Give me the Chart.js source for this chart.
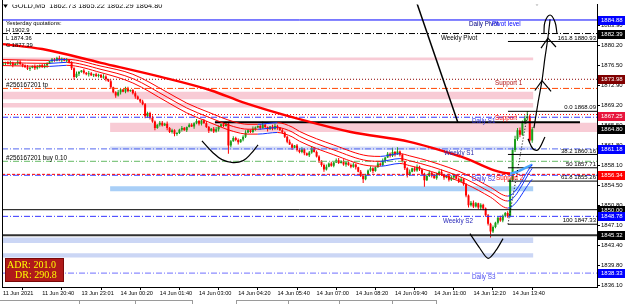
<!DOCTYPE html>
<html>
<head>
<meta charset="utf-8">
<title>GOLD,M5</title>
<script src="https://cdn.jsdelivr.net/npm/chart.js@4.4.1/dist/chart.umd.min.js"></script>
<style>
html,body{margin:0;padding:0;background:#fff;overflow:hidden;}
#wrap{position:relative;width:625px;height:304px;}
canvas{display:block;}
</style>
</head>
<body>
<div id="wrap"><canvas id="chart" width="625" height="304"></canvas></div>
<script>
// ---------------- DATA ----------------
const opens = [
1876.7,1876.9,1877.1,1876.8,1877.0,1876.6,1876.9,1877.2,1876.8,1876.5,
1876.2,1875.9,1876.1,1876.4,1876.0,1876.3,1876.6,1876.2,1876.5,1876.9,
1877.3,1877.6,1877.4,1877.9,1877.5,1877.8,1877.4,1877.6,1877.1,1876.0,
1874.4,1875.0,1875.3,1875.6,1875.2,1874.9,1875.1,1874.7,1874.9,1874.6,
1874.8,1874.3,1874.5,1874.0,1873.6,1872.5,1871.6,1871.0,1871.6,1872.1,
1871.7,1872.3,1871.8,1872.0,1871.4,1870.8,1870.3,1869.9,1869.4,1867.2,
1867.8,1866.9,1866.2,1865.0,1865.6,1866.0,1865.5,1865.8,1865.0,1864.3,
1864.6,1863.9,1864.1,1864.7,1865.0,1864.6,1865.2,1865.6,1865.3,1865.9,
1866.3,1865.8,1866.4,1865.9,1865.2,1864.5,1864.9,1864.4,1864.8,1865.3,
1865.7,1865.4,1865.8,1861.8,1862.6,1863.2,1862.8,1862.4,1862.9,1863.4,
1864.2,1864.6,1864.3,1864.9,1865.1,1865.4,1865.0,1865.6,1865.2,1864.8,
1865.3,1864.9,1865.4,1865.1,1864.6,1864.2,1863.4,1862.5,1862.0,1861.4,
1861.8,1861.0,1860.6,1861.1,1860.4,1860.0,1860.5,1861.3,1860.6,1859.8,
1859.0,1858.2,1857.4,1857.9,1858.5,1858.1,1858.7,1859.1,1858.6,1858.9,
1858.3,1858.7,1858.2,1857.9,1858.3,1857.8,1857.0,1856.2,1855.6,1856.4,
1857.2,1857.6,1857.1,1857.8,1858.5,1858.2,1859.0,1859.6,1860.3,1859.9,
1860.6,1860.2,1860.7,1860.1,1858.9,1857.6,1856.4,1857.0,1857.6,1857.2,
1857.9,1857.4,1856.6,1855.4,1856.2,1856.8,1856.3,1855.8,1856.5,1857.0,
1856.4,1855.9,1856.3,1855.5,1855.9,1856.4,1855.7,1855.2,1855.6,1854.7,
1852.6,1850.8,1851.3,1850.6,1851.2,1850.4,1850.9,1850.2,1849.0,1847.4,
1846.0,1846.8,1847.6,1848.5,1848.0,1848.9,1849.4,1848.8,1855.5,1861.0,
1863.0,1864.6,1863.8,1866.0,1866.8,1867.2,1862.73];
const highs = [
1877.2,1877.2,1877.3,1877.4,1877.2,1877.0,1877.5,1877.5,1876.9,1876.7,
1876.6,1876.3,1876.5,1876.7,1876.6,1876.7,1876.8,1876.9,1877.1,1877.4,
1877.9,1877.9,1878.1,1878.3,1878.0,1877.9,1877.9,1877.7,1877.3,1876.2,
1875.4,1875.5,1875.7,1875.9,1875.3,1875.5,1875.3,1875.0,1875.2,1875.0,
1874.9,1874.9,1874.7,1874.1,1873.9,1872.6,1871.8,1872.0,1872.3,1872.2,
1872.6,1872.6,1872.1,1872.2,1871.8,1871.0,1870.4,1870.2,1869.6,1868.0,
1868.0,1867.3,1866.4,1865.7,1866.3,1866.3,1866.0,1866.2,1865.2,1864.9,
1864.8,1864.3,1864.9,1865.4,1865.2,1865.3,1865.9,1865.9,1866.1,1866.7,
1866.5,1866.5,1866.7,1866.3,1865.4,1865.0,1865.2,1865.2,1865.5,1865.8,
1866.0,1866.2,1866.0,1862.8,1863.5,1863.4,1863.1,1863.0,1863.7,1864.6,
1864.8,1864.7,1865.3,1865.3,1865.5,1865.7,1866.2,1865.8,1865.3,1865.4,
1865.6,1865.8,1865.6,1865.2,1864.9,1864.4,1863.6,1862.9,1862.2,1861.9,
1862.1,1861.3,1861.5,1861.3,1860.5,1860.8,1861.7,1861.5,1860.9,1860.0,
1859.1,1858.5,1858.3,1858.7,1858.8,1858.8,1859.4,1859.5,1859.1,1859.3,
1858.9,1858.8,1858.5,1858.7,1858.5,1857.9,1857.3,1856.5,1856.6,1857.4,
1858.0,1857.8,1857.9,1858.8,1858.7,1859.4,1859.7,1860.6,1860.5,1861.4,
1860.8,1861.5,1860.9,1860.3,1859.0,1857.8,1857.4,1857.7,1857.9,1858.3,
1858.1,1857.5,1856.8,1856.5,1857.2,1857.0,1856.4,1856.8,1857.2,1857.4,
1856.5,1856.4,1856.6,1856.3,1856.6,1856.5,1855.9,1856.0,1855.8,1854.9,
1852.8,1851.6,1851.7,1851.4,1851.3,1851.2,1851.1,1850.4,1849.2,1847.6,
1847.1,1847.8,1848.7,1848.9,1849.1,1849.6,1849.7,1855.8,1861.4,1863.6,
1865.0,1865.1,1866.4,1867.3,1868.09,1867.5,1865.22];
const lows = [
1876.5,1876.6,1876.7,1876.6,1876.2,1876.5,1876.6,1876.6,1876.2,1876.1,
1875.7,1875.5,1876.0,1875.7,1875.8,1876.0,1876.1,1876.0,1876.1,1876.8,
1877.0,1877.2,1877.3,1877.3,1877.1,1877.3,1877.1,1876.9,1875.7,1873.9,
1874.2,1874.6,1875.2,1874.9,1874.7,1874.5,1874.6,1874.4,1874.4,1874.3,
1874.2,1874.1,1873.6,1873.5,1872.2,1871.4,1870.6,1870.8,1871.2,1871.6,
1871.4,1871.6,1871.7,1871.2,1870.4,1870.2,1869.6,1869.2,1866.8,1866.9,
1866.6,1866.0,1864.6,1864.9,1865.3,1865.3,1865.4,1864.6,1864.1,1864.0,
1863.5,1863.6,1863.9,1864.4,1864.5,1864.3,1865.1,1865.2,1864.9,1865.7,
1865.5,1865.5,1865.8,1865.0,1864.1,1864.4,1864.1,1864.2,1864.4,1865.2,
1865.2,1865.3,1860.3,1861.5,1862.5,1862.6,1862.0,1862.3,1862.6,1863.2,
1864.1,1864.1,1864.1,1864.5,1865.0,1864.7,1864.9,1865.0,1864.4,1864.7,
1864.6,1864.7,1864.7,1864.5,1863.9,1863.2,1862.2,1861.9,1861.0,1861.3,
1860.7,1860.4,1860.4,1860.0,1859.9,1859.7,1860.3,1860.5,1859.6,1858.6,
1857.9,1857.0,1857.2,1857.8,1857.9,1857.8,1858.6,1858.4,1858.5,1858.1,
1857.9,1858.1,1857.6,1857.7,1857.4,1856.9,1856.0,1854.9,1855.4,1856.3,
1857.0,1856.7,1857.0,1857.7,1858.0,1858.0,1858.6,1859.5,1859.6,1859.7,
1859.8,1860.1,1859.8,1858.7,1857.3,1855.9,1856.2,1856.9,1857.0,1857.0,
1857.1,1856.3,1854.2,1855.3,1856.0,1855.9,1855.7,1855.5,1856.3,1856.2,
1855.5,1855.8,1855.2,1855.3,1855.5,1855.6,1854.9,1855.0,1854.4,1852.3,
1850.4,1850.6,1850.3,1850.4,1850.1,1850.0,1849.9,1848.7,1847.1,1844.9,
1845.7,1846.6,1847.3,1847.8,1847.7,1848.6,1848.5,1848.6,1855.2,1860.6,
1862.7,1863.3,1863.6,1865.7,1866.4,1862.4,1862.29];
const closes = [
1876.9,1877.1,1876.8,1877.0,1876.6,1876.9,1877.2,1876.8,1876.5,1876.2,
1875.9,1876.1,1876.4,1876.0,1876.3,1876.6,1876.2,1876.5,1876.9,1877.3,
1877.6,1877.4,1877.9,1877.5,1877.8,1877.4,1877.6,1877.1,1876.0,1874.4,
1875.0,1875.3,1875.6,1875.2,1874.9,1875.1,1874.7,1874.9,1874.6,1874.8,
1874.3,1874.5,1874.0,1873.6,1872.5,1871.6,1871.0,1871.6,1872.1,1871.7,
1872.3,1871.8,1872.0,1871.4,1870.8,1870.3,1869.9,1869.4,1867.2,1867.8,
1866.9,1866.2,1865.0,1865.6,1866.0,1865.5,1865.8,1865.0,1864.3,1864.6,
1863.9,1864.1,1864.7,1865.0,1864.6,1865.2,1865.6,1865.3,1865.9,1866.3,
1865.8,1866.4,1865.9,1865.2,1864.5,1864.9,1864.4,1864.8,1865.3,1865.7,
1865.4,1865.8,1861.8,1862.6,1863.2,1862.8,1862.4,1862.9,1863.4,1864.2,
1864.6,1864.3,1864.9,1865.1,1865.4,1865.0,1865.6,1865.2,1864.8,1865.3,
1864.9,1865.4,1865.1,1864.6,1864.2,1863.4,1862.5,1862.0,1861.4,1861.8,
1861.0,1860.6,1861.1,1860.4,1860.0,1860.5,1861.3,1860.6,1859.8,1859.0,
1858.2,1857.4,1857.9,1858.5,1858.1,1858.7,1859.1,1858.6,1858.9,1858.3,
1858.7,1858.2,1857.9,1858.3,1857.8,1857.0,1856.2,1855.6,1856.4,1857.2,
1857.6,1857.1,1857.8,1858.5,1858.2,1859.0,1859.6,1860.3,1859.9,1860.6,
1860.2,1860.7,1860.1,1858.9,1857.6,1856.4,1857.0,1857.6,1857.2,1857.9,
1857.4,1856.6,1855.4,1856.2,1856.8,1856.3,1855.8,1856.5,1857.0,1856.4,
1855.9,1856.3,1855.5,1855.9,1856.4,1855.7,1855.2,1855.6,1854.7,1852.6,
1850.8,1851.3,1850.6,1851.2,1850.4,1850.9,1850.2,1849.0,1847.4,1846.0,
1846.8,1847.6,1848.5,1848.0,1848.9,1849.4,1848.8,1855.5,1861.0,1863.0,
1864.6,1863.8,1866.0,1866.8,1867.2,1862.73,1864.80];

// time axis (bar index of each labelled tick, 16 bars = 80 min apart)
const xTickBars = [0,16,32,48,64,80,96,112,128,144,160,176,192,208];
const xTickLabels = ['11 Jun 2021','11 Jun 20:40','13 Jun 23:01','14 Jun 00:20','14 Jun 01:40','14 Jun 03:00','14 Jun 04:20','14 Jun 05:40','14 Jun 07:00','14 Jun 08:20','14 Jun 09:40','14 Jun 11:00','14 Jun 12:20','14 Jun 13:40'];
// price axis ticks
const yTickValues = [1883.90,1880.20,1876.50,1872.90,1869.20,1865.50,1861.80,1858.10,1854.50,1850.80,1847.10,1843.40,1839.80,1836.10];

// slow moving average (thick)
const slowBars = [0,16,40,64,85,98,121,142,166,187,207,216];
const slowMA   = [1880.45,1879.54,1877.0,1874.46,1871.92,1869.74,1866.65,1864.29,1862.48,1859.75,1856.67,1858.3];
// three-line ribbon
const ribbonBars  = [0,19,26,40,53,67,75,84,94,100,104,112,118,121,135,149,154,162,166,175,189,199,206,216];
const ribbonUpper = [1877.6,1877.45,1877.65,1876.4,1874.9,1871.6,1869.6,1867.9,1866.2,1865.7,1865.7,1866.0,1865.2,1864.4,1861.9,1859.9,1859.8,1860.3,1859.9,1858.8,1856.5,1854.1,1852.5,1858.3];
const ribbonMid   = [1877.05,1876.9,1877.1,1875.8,1874.1,1870.7,1868.7,1867.0,1865.3,1864.8,1864.8,1865.1,1864.3,1863.5,1861.0,1859.0,1858.9,1859.4,1859.0,1857.9,1855.6,1853.2,1851.6,1857.6];
const ribbonLower = [1876.5,1876.35,1876.55,1875.2,1873.3,1869.8,1867.8,1866.1,1864.4,1863.9,1863.9,1864.2,1863.4,1862.6,1860.1,1858.1,1858.0,1858.5,1858.1,1857.0,1854.7,1852.3,1850.3,1855.6];

// horizontal levels (full width)
const levelPrices = [1884.88,1882.39,1873.98,1872.30,1867.50,1867.00,1861.18,1858.90,1856.50,1856.34,1850.00,1848.78,1845.32,1838.33];
// user horizontal segment
const userLinePrice = 1866.10, userLineBars = [86.5, 235.5];
// supply / demand zones
const zoneTop    = [1878.00,1871.70,1869.60,1866.00,1861.60,1854.30,1844.90,1842.00];
const zoneBottom = [1877.50,1870.30,1868.80,1864.30,1861.00,1853.40,1843.90,1841.20];
const zoneFrom   = [-0.41,-0.41,-0.41,43.7,43.7,43.7,-0.41,-0.41];
const zoneTo     = [216.5,216.5,216.5,242.45,216.5,216.5,216.5,216.5];
// fibonacci
const fibPrices = [1868.09,1860.16,1857.71,1855.26,1847.33,1880.93];
const fibLabels = ['0.0 1868.09','38.2 1860.16','50 1857.71','61.8 1855.26','100 1847.33','161.8 1880.93'];
const fibStartBar = 206.1;
// right-axis price markers
const markerPrices = [1884.88,1882.39,1873.98,1867.25,1864.80,1861.18,1856.34,1850.00,1848.78,1845.32,1838.33];
// hand-drawn objects (bar index, price)
const trendBars = [169.0,185.7],  trendPrices = [1887.89,1866.0];
const smileBars = [81.2,85.3,89.4,93.9,98.0,101.2,104.1], smilePrices = [1862.66,1860.66,1859.21,1858.66,1859.03,1860.30,1861.93];
const vBars = [190.6,194.7,198.0,201.2,204.1], vPrices = [1845.59,1842.87,1841.06,1842.51,1844.68];
const hookBars = [214.3,216.3,218.4,221.2], hookPrices = [1863.02,1861.21,1861.02,1863.38];
const shaftBars = [216.7,218.4,220.0,221.2,222.4,223.3], shaftPrices = [1865.0,1869.74,1873.73,1877.91,1881.54,1884.99];
const head1Bars = [217.1,220.0,223.7], head1Prices = [1871.92,1873.73,1871.74];
const head2Bars = [219.6,222.4,225.7], head2Prices = [1879.72,1881.54,1879.91];
const head3Bars = [220.8,221.2,223.3,225.3,226.1], head3Prices = [1882.45,1884.5,1885.8,1884.5,1882.45];
const fibTrendBars = [206.1,214.3], fibTrendPrices = [1847.33,1868.09];
// info texts
const yesterdayHLC = [1902.9, 1874.36, 1877.39];
const adrValues = [201.0, 290.8];

// ---------------- CHART ----------------
const X_MIN = -0.41, X_MAX = 242.45, Y_MIN = 1835.79, Y_MAX = 1887.71;
const FONT = '"Liberation Sans", Arial, sans-serif';
const bars = closes.map((_, i) => i);
const BULL = '#1a9e1a', BEAR = '#ff0000';
const candleColors = bars.map(i => closes[i] >= opens[i] ? BULL : BEAR);
const pts = (xs, ys) => xs.map((x, i) => ({x, y: ys[i]}));

const DASHDOT = [6,2,1,2], DOT = [1,2], DASH = [3,2];
const levelStyles = [
  {c:'#0000ff', d:[], w:1},        // daily pivot
  {c:'#000000', d:DASHDOT, w:1},   // weekly pivot
  {c:'#8b0000', d:DOT, w:1},       // support 1
  {c:'#ff4500', d:DASHDOT, w:1},   // tp
  {c:'#ff0000', d:DOT, w:1},       // support
  {c:'#3535ff', d:DASHDOT, w:1},   // daily S1
  {c:'#5468f0', d:DASHDOT, w:1},   // weekly S1
  {c:'#66bb66', d:DASHDOT, w:1},   // buy
  {c:'#ff0000', d:DASH, w:1},      // support 2
  {c:'#3535ff', d:DASHDOT, w:1},   // daily S2
  {c:'#000000', d:[], w:1},        // 1850
  {c:'#3535ff', d:DASHDOT, w:1},   // weekly S2
  {c:'#303030', d:[], w:2},        // 1845.32
  {c:'#8c8cff', d:DASHDOT, w:1.2}  // daily S3
];
const zoneColors = ['#f8cbd5','#f8cbd5','#f8cbd5','#f8cbd5','#d3dbf7','#a9cff7','#cbd6f5','#cbd6f5'];
const markerColors = ['#0000ff','#000000','#800000','#e8143c','#000000','#0000ff','#ff0000','#000000','#0000ff','#000000','#0000ff'];

const datasets = [];
// zones
zoneTop.forEach((t, k) => {
  datasets.push({type:'line', data:[{x:zoneFrom[k],y:t},{x:zoneTo[k],y:t}], borderWidth:0, pointRadius:0, fill:'+1', backgroundColor:zoneColors[k], order:20});
  datasets.push({type:'line', data:[{x:zoneFrom[k],y:zoneBottom[k]},{x:zoneTo[k],y:zoneBottom[k]}], borderWidth:0, pointRadius:0, fill:false, order:20});
});
// levels
levelPrices.forEach((p, k) => {
  const s = levelStyles[k];
  datasets.push({type:'line', data:[{x:X_MIN,y:p},{x:X_MAX,y:p}], borderColor:s.c, borderDash:s.d, borderWidth:s.w, pointRadius:0, fill:false, order:4});
});
datasets.push({type:'line', data:[{x:userLineBars[0],y:userLinePrice},{x:userLineBars[1],y:userLinePrice}], borderColor:'#000', borderWidth:2, pointRadius:0, fill:false, order:4});
// fibo
fibPrices.forEach(p => {
  datasets.push({type:'line', data:[{x:fibStartBar,y:p},{x:X_MAX,y:p}], borderColor:'#000', borderWidth:1, pointRadius:0, fill:false, order:4});
});
// candles
datasets.push({type:'bar', data:bars.map(i => ({x:i, y:[lows[i], highs[i]]})), backgroundColor:candleColors, barThickness:1, grouped:false, inflateAmount:0, borderWidth:0, order:6});
datasets.push({type:'bar', data:bars.map(i => ({x:i, y:[opens[i], closes[i]]})), backgroundColor:candleColors, barThickness:2, grouped:false, inflateAmount:0, borderWidth:0, minBarLength:1, order:5});
// moving averages
const upDown = (up, down) => ({borderColor: c => c.p1.parsed.y > c.p0.parsed.y ? up : down});
datasets.push({type:'line', data:pts(slowBars, slowMA), borderColor:'#ff0000', borderWidth:2.4, pointRadius:0, fill:false, cubicInterpolationMode:'monotone', segment:upDown('#4aa8ff','#ff0000'), order:3});
[ribbonUpper, ribbonMid, ribbonLower].forEach(r => {
  datasets.push({type:'line', data:pts(ribbonBars, r), borderColor:'#ff0000', borderWidth:1, pointRadius:0, fill:false, cubicInterpolationMode:'monotone', segment:upDown('#1030ff','#ff0000'), order:2});
});
// drawings
const drawn = (xs, ys, opt) => Object.assign({type:'line', data:pts(xs, ys), borderColor:'#000', borderWidth:1.2, pointRadius:0, fill:false, order:1}, opt || {});
datasets.push(drawn(trendBars, trendPrices, {borderWidth:1.5}));
datasets.push(drawn(smileBars, smilePrices, {tension:0.45}));
datasets.push(drawn(vBars, vPrices, {tension:0.3}));
datasets.push(drawn(hookBars, hookPrices, {tension:0.35}));
datasets.push(drawn(shaftBars, shaftPrices, {tension:0.2}));
datasets.push(drawn(head1Bars, head1Prices));
datasets.push(drawn(head2Bars, head2Prices));
datasets.push(drawn(head3Bars, head3Prices, {tension:0.4}));
datasets.push(drawn(fibTrendBars, fibTrendPrices, {borderDash:[1,2], borderWidth:1}));

const levelTexts = [
  ['Daily Pivot', 469, levelPrices[0], 4, '#000080'],
  ['Pivot level', 492, levelPrices[0], 4, '#0000ff'],
  ['Weekly Pivot', 441, levelPrices[1], 4.5, '#000000'],
  ['Support 1', 495, levelPrices[2], 4, '#b01010'],
  ['Support', 495, levelPrices[4], 4, '#ff0000'],
  ['Daily S1', 472, levelPrices[5], 4, '#3030e0'],
  ['Weekly S1', 444, levelPrices[6], 4.5, '#2828a8'],
  ['Daily S2', 472, levelPrices[9], 4, '#3030e0'],
  ['Support 2', 496, levelPrices[8], 4, '#ff0000'],
  ['Weekly S2', 443, levelPrices[11], 4.5, '#2828b8'],
  ['Daily S3', 472, levelPrices[13], 4.5, '#4848ee'],
  ['#256167201 tp', 6, levelPrices[3], -3, '#000000'],
  ['#256167201 buy 0.10', 6, levelPrices[7], -3, '#000000']
];

const overlay = {
  id: 'overlay',
  afterDatasetsDraw(chart) {
    const {ctx, chartArea: a, scales: {x, y}} = chart;
    ctx.save();
    ctx.beginPath(); ctx.rect(a.left, a.top, a.right - a.left, a.bottom - a.top); ctx.clip();
    ctx.textBaseline = 'middle';
    ctx.font = '6.3px ' + FONT;
    levelTexts.forEach(([t, px, p, dy, c]) => {
      ctx.fillStyle = c; ctx.textAlign = 'left';
      ctx.fillText(t, px, y.getPixelForValue(p) + dy);
    });
    // fib labels
    ctx.fillStyle = '#000'; ctx.textAlign = 'right'; ctx.font = '6px ' + FONT;
    fibPrices.forEach((p, k) => ctx.fillText(fibLabels[k], a.right - 1, y.getPixelForValue(p) - 3.5));
    // title
    const last = closes.length - 1;
    ctx.textAlign = 'left'; ctx.fillStyle = '#000'; ctx.font = '7.4px ' + FONT;
    ctx.fillText('GOLD,M5  ' + [opens[last], highs[last], lows[last], closes[last]].map(v => v.toFixed(2)).join(' '), 12, 6);
    ctx.beginPath(); ctx.moveTo(3, 4); ctx.lineTo(8, 4); ctx.lineTo(5.5, 8); ctx.closePath(); ctx.fill();
    // shift marker
    ctx.fillStyle = '#a0a0a0';
    ctx.beginPath(); ctx.moveTo(534, 2); ctx.lineTo(540, 2); ctx.lineTo(537, 6); ctx.closePath(); ctx.fill();
    // yesterday quotations
    ctx.fillStyle = '#000'; ctx.font = '5.8px ' + FONT;
    ctx.fillText('Yesterday quotations:', 6, 23);
    ctx.fillText('H ' + yesterdayHLC[0].toFixed(1), 6, 30.5);
    ctx.fillText('L ' + yesterdayHLC[1].toFixed(2), 6, 38);
    ctx.fillText('C ' + yesterdayHLC[2].toFixed(2), 6, 45.5);
    // ADR box
    ctx.fillStyle = '#b01a1a'; ctx.fillRect(5, 258, 59, 24);
    ctx.strokeStyle = '#7a0808'; ctx.lineWidth = 1; ctx.strokeRect(5.5, 258.5, 58, 23);
    ctx.fillStyle = '#ffff00'; ctx.font = '10px "Liberation Serif", serif';
    ctx.fillText('ADR: ' + adrValues[0].toFixed(1), 7, 265);
    ctx.fillText('DR: ' + adrValues[1].toFixed(1), 15, 275.5);
    ctx.restore();
    // left frame
    ctx.save(); ctx.strokeStyle = '#000'; ctx.lineWidth = 1;
    ctx.beginPath(); ctx.moveTo(a.left + 0.5, 0); ctx.lineTo(a.left + 0.5, a.bottom); ctx.stroke();
    ctx.restore();
  },
  afterDraw(chart) {
    const {ctx, chartArea: a, scales: {y}} = chart;
    ctx.save();
    ctx.font = '6px ' + FONT; ctx.textBaseline = 'middle'; ctx.textAlign = 'left';
    markerPrices.forEach((p, k) => {
      const py = Math.round(y.getPixelForValue(p));
      ctx.fillStyle = markerColors[k];
      ctx.fillRect(a.right + 1, py - 4, 625 - a.right - 1, 9);
      ctx.fillStyle = '#fff';
      ctx.fillText(p.toFixed(2), a.right + 4, py + 0.5);
    });
    // terminal tab strip at the bottom
    ctx.strokeStyle = '#9a9a9a'; ctx.lineWidth = 1;
    ctx.beginPath(); ctx.moveTo(0, 300.5); ctx.lineTo(192, 300.5); ctx.moveTo(236, 300.5); ctx.lineTo(436, 300.5);
    [79, 135, 192, 236, 288, 339, 392, 436].forEach(v => { ctx.moveTo(v + 0.5, 300); ctx.lineTo(v + 0.5, 304); });
    ctx.stroke();
    ctx.restore();
  }
};

new Chart(document.getElementById('chart'), {
  type: 'line',
  data: { datasets },
  options: {
    responsive: false, animation: false, devicePixelRatio: 1, events: [],
    layout: { autoPadding: false, padding: { left: 2, top: 1, right: 0, bottom: 0 } },
    plugins: { legend: { display: false }, tooltip: { enabled: false } },
    scales: {
      x: {
        type: 'linear', position: 'bottom', min: X_MIN, max: X_MAX, offset: false,
        afterBuildTicks: s => { s.ticks = xTickBars.map(v => ({ value: v })); },
        afterFit: s => { s.height = 17; },
        ticks: { autoSkip: false, maxRotation: 0, minRotation: 0, align: 'start', padding: 0,
                 callback: v => xTickLabels[xTickBars.indexOf(v)], color: '#000', font: { family: FONT, size: 5.6 } },
        grid: { drawOnChartArea: false, drawTicks: true, tickLength: 3, color: '#000' },
        border: { display: true, color: '#000' }
      },
      y: {
        type: 'linear', position: 'right', min: Y_MIN, max: Y_MAX,
        afterBuildTicks: s => { s.ticks = yTickValues.map(v => ({ value: v })); },
        afterFit: s => { s.width = 28; },
        ticks: { autoSkip: false, padding: 1, callback: v => Number(v).toFixed(2), color: '#000', font: { family: FONT, size: 6 } },
        grid: { drawOnChartArea: false, drawTicks: true, tickLength: 3, color: '#000' },
        border: { display: true, color: '#000' }
      }
    }
  },
  plugins: [overlay]
});
</script>
</body>
</html>
